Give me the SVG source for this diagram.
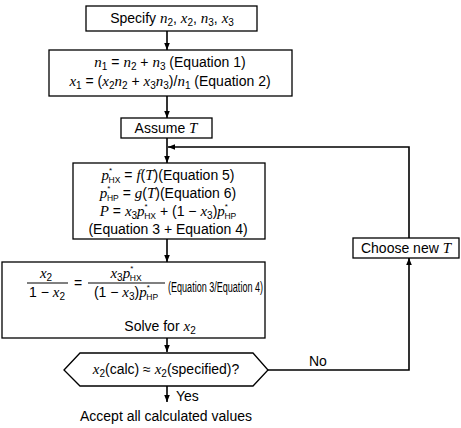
<svg xmlns="http://www.w3.org/2000/svg" width="461" height="428" viewBox="0 0 461 428">
<defs>
<marker id="ah" viewBox="0 0 10 10" refX="10" refY="5" markerWidth="7" markerHeight="7" orient="auto" markerUnits="userSpaceOnUse">
<path d="M0,1 L10,5 L0,9 Z" fill="#000"/>
</marker>
<style>
.box{fill:#fff;stroke:#000;stroke-width:1.3}
.ln{fill:none;stroke:#000;stroke-width:1.6}
.t{font-family:"Liberation Sans",Arial,sans-serif;font-size:14px;fill:#000}
.v{font-family:"Liberation Serif","Times New Roman",serif;font-style:italic;font-size:15px}
.s{font-size:10px}
.sup{font-size:8px}
.hx{font-size:8.5px}
</style>
</defs>
<rect width="461" height="428" fill="#fff"/>
<g id="connectors">
<line class="ln" x1="167" y1="31" x2="167" y2="50" marker-end="url(#ah)"/>
<line class="ln" x1="167" y1="96" x2="167" y2="118" marker-end="url(#ah)"/>
<line class="ln" x1="167" y1="138" x2="167" y2="163" marker-end="url(#ah)"/>
<polyline class="ln" points="409,238 409,147 168,147" marker-end="url(#ah)"/>
<line class="ln" x1="167" y1="239" x2="167" y2="262" marker-end="url(#ah)"/>
<line class="ln" x1="167" y1="338" x2="167" y2="352" marker-end="url(#ah)"/>
<polyline class="ln" points="268,370 409,370 409,258" marker-end="url(#ah)"/>
<line class="ln" x1="167" y1="386" x2="167" y2="402" marker-end="url(#ah)"/>
<text class="t" x="309" y="366">No</text>
<text class="t" x="176" y="401">Yes</text>
</g>
<g id="n1">
<rect class="box" x="86" y="6" width="171" height="25"/>
<text class="t" x="172" y="23" text-anchor="middle">Specify <tspan class="v">n</tspan><tspan class="s" dy="3">2</tspan><tspan dy="-3">, </tspan><tspan class="v">x</tspan><tspan class="s" dy="3">2</tspan><tspan dy="-3">, </tspan><tspan class="v">n</tspan><tspan class="s" dy="3">3</tspan><tspan dy="-3">, </tspan><tspan class="v">x</tspan><tspan class="s" dy="3">3</tspan></text>
</g>
<g id="n2">
<rect class="box" x="49" y="50" width="243" height="46"/>
<text class="t" x="170" y="67" text-anchor="middle"><tspan class="v">n</tspan><tspan class="s" dy="3">1</tspan><tspan dy="-3"> = </tspan><tspan class="v">n</tspan><tspan class="s" dy="3">2</tspan><tspan dy="-3"> + </tspan><tspan class="v">n</tspan><tspan class="s" dy="3">3</tspan><tspan dy="-3"> (Equation 1)</tspan></text>
<text class="t" x="170" y="86" text-anchor="middle"><tspan class="v">x</tspan><tspan class="s" dy="3">1</tspan><tspan dy="-3"> = (</tspan><tspan class="v">x</tspan><tspan class="s" dy="3">2</tspan><tspan class="v" dy="-3">n</tspan><tspan class="s" dy="3">2</tspan><tspan dy="-3"> + </tspan><tspan class="v">x</tspan><tspan class="s" dy="3">3</tspan><tspan class="v" dy="-3">n</tspan><tspan class="s" dy="3">3</tspan><tspan dy="-3">)/</tspan><tspan class="v">n</tspan><tspan class="s" dy="3">1</tspan><tspan dy="-3"> (Equation 2)</tspan></text>
</g>
<g id="n3">
<rect class="box" x="121" y="118" width="91" height="20"/>
<text class="t" x="166" y="133" text-anchor="middle">Assume <tspan class="v">T</tspan></text>
</g>
<g id="n4">
<rect class="box" x="73" y="163" width="192" height="76"/>
<text class="t" x="168" y="180" text-anchor="middle"><tspan class="v">p</tspan><tspan class="sup" dy="-7">*</tspan><tspan class="hx" dx="-3.5" dy="10">HX</tspan><tspan dy="-3"> = </tspan><tspan class="v">f</tspan>(<tspan class="v">T</tspan>)(Equation 5)</text>
<text class="t" x="168" y="198" text-anchor="middle"><tspan class="v">p</tspan><tspan class="sup" dy="-7">*</tspan><tspan class="hx" dx="-3.5" dy="10">HP</tspan><tspan dy="-3"> = </tspan><tspan class="v">g</tspan>(<tspan class="v">T</tspan>)(Equation 6)</text>
<text class="t" x="168" y="216" text-anchor="middle"><tspan class="v">P</tspan> = <tspan class="v">x</tspan><tspan class="s" dy="3">3</tspan><tspan class="v" dy="-3">p</tspan><tspan class="sup" dy="-7">*</tspan><tspan class="hx" dx="-3.5" dy="10">HX</tspan><tspan dy="-3"> + (1 −  </tspan><tspan class="v">x</tspan><tspan class="s" dy="3">3</tspan><tspan dy="-3">)</tspan><tspan class="v">p</tspan><tspan class="sup" dy="-7">*</tspan><tspan class="hx" dx="-3.5" dy="10">HP</tspan></text>
<text class="t" x="168" y="234" text-anchor="middle">(Equation 3 + Equation 4)</text>
</g>
<g id="n5">
<rect class="box" x="2" y="262" width="263" height="76"/>
<text class="t" x="46" y="278" text-anchor="middle"><tspan class="v">x</tspan><tspan class="s" dy="3">2</tspan></text>
<line x1="27" y1="283" x2="68" y2="283" stroke="#000" stroke-width="1"/>
<text class="t" x="47" y="297" text-anchor="middle">1 −  <tspan class="v">x</tspan><tspan class="s" dy="3">2</tspan></text>
<text class="t" x="74" y="288">=</text>
<text class="t" x="126" y="278" text-anchor="middle"><tspan class="v">x</tspan><tspan class="s" dy="3">3</tspan><tspan class="v" dy="-3">p</tspan><tspan class="sup" dy="-7">*</tspan><tspan class="hx" dx="-3.5" dy="10">HX</tspan></text>
<line x1="88" y1="283" x2="165" y2="283" stroke="#000" stroke-width="1"/>
<text class="t" x="126" y="297" text-anchor="middle">(1 −  <tspan class="v">x</tspan><tspan class="s" dy="3">3</tspan><tspan dy="-3">)</tspan><tspan class="v">p</tspan><tspan class="sup" dy="-7">*</tspan><tspan class="hx" dx="-3.5" dy="10">HP</tspan></text>
<text class="t" x="168" y="292" font-size="12.5" textLength="95" lengthAdjust="spacingAndGlyphs">(Equation 3/Equation 4)</text>
<text class="t" x="160" y="331" text-anchor="middle">Solve for  <tspan class="v">x</tspan><tspan class="s" dy="3">2</tspan></text>
</g>
<g id="n6">
<polygon class="box" points="64,370 80,353 253,353 268,370 253,386 80,386"/>
<text class="t" x="166" y="374" text-anchor="middle"><tspan class="v">x</tspan><tspan class="s" dy="3">2</tspan><tspan dy="-3">(calc) ≈ </tspan><tspan class="v">x</tspan><tspan class="s" dy="3">2</tspan><tspan dy="-3">(specified)?</tspan></text>
</g>
<g id="n7">
<text class="t" x="166" y="421" text-anchor="middle">Accept all calculated values</text>
</g>
<g id="n8">
<rect class="box" x="353" y="238" width="106" height="20"/>
<text class="t" x="406" y="253" text-anchor="middle">Choose new <tspan class="v">T</tspan></text>
</g>
</svg>
